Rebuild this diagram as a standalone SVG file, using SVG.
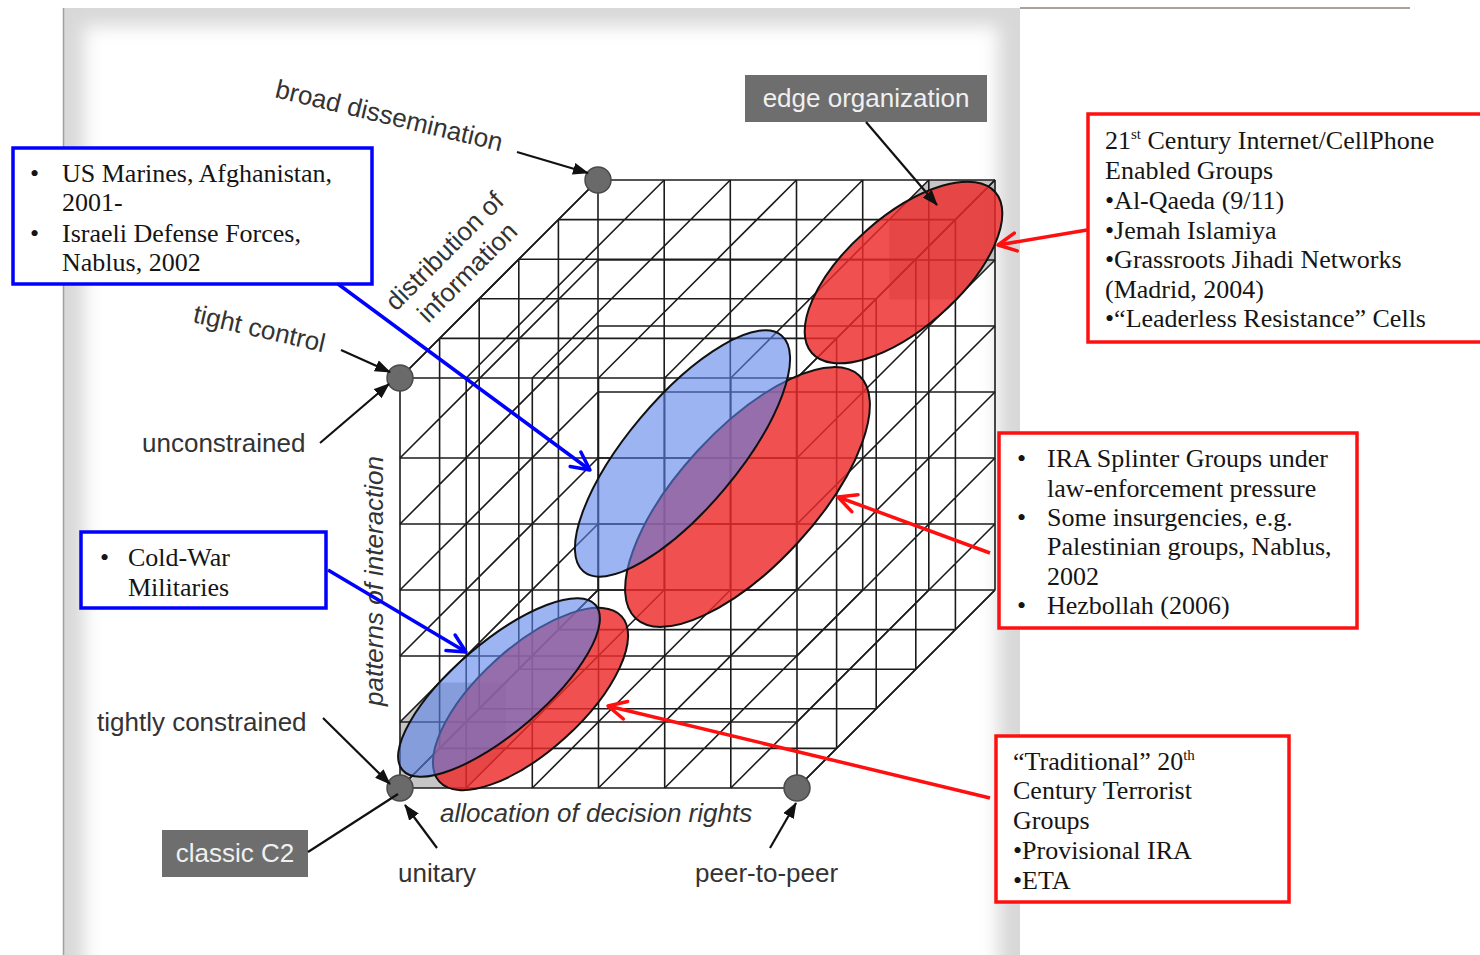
<svg xmlns="http://www.w3.org/2000/svg" xmlns:xlink="http://www.w3.org/1999/xlink" width="1480" height="955" viewBox="0 0 1480 955">
<style>
.g{stroke:#1c1c1c;stroke-width:1.6;fill:none}
.lbl{font-family:"Liberation Sans",Arial,sans-serif;font-size:26px;fill:#333}
.it{font-style:italic}
.wl{font-family:"Liberation Sans",Arial,sans-serif;font-size:26px;fill:#f0f0f0}
.gbox{fill:#6e6e6e}
.bb{fill:#fff;stroke:#0000ff;stroke-width:3.5}
.rb{fill:#fff;stroke:#ff1010;stroke-width:3.5}
.tx{font-family:"Liberation Serif","Times New Roman",serif;font-size:26px;fill:#151515}
.dot{fill:#6a6a6a;stroke:#4a4a4a;stroke-width:1.5}
.ka{stroke:#111;stroke-width:2.2;fill:none}
.ba{stroke:#0000ff;stroke-width:3.5;fill:none}
.ra{stroke:#ff1010;stroke-width:3.5;fill:none}
.re{fill:#ee2a2a;fill-opacity:0.82;stroke:#111;stroke-width:2}
.be{fill:#5a82ea;fill-opacity:0.6;stroke:#111;stroke-width:2}
</style>
<defs>
<marker id="mk" markerUnits="userSpaceOnUse" markerWidth="16" markerHeight="12" viewBox="0 0 16 12" refX="15" refY="6" orient="auto"><path d="M0,0 L16,6 L0,12 z" fill="#111"/></marker>
<marker id="mb" markerUnits="userSpaceOnUse" markerWidth="26" markerHeight="26" viewBox="0 0 26 26" refX="22" refY="13" orient="auto"><path d="M4,4 L22,13 L4,22" fill="none" stroke="#0000ff" stroke-width="3.5" stroke-linecap="round" stroke-linejoin="round"/></marker>
<marker id="mr" markerUnits="userSpaceOnUse" markerWidth="26" markerHeight="26" viewBox="0 0 26 26" refX="22" refY="13" orient="auto"><path d="M4,4 L22,13 L4,22" fill="none" stroke="#ff1010" stroke-width="3.5" stroke-linecap="round" stroke-linejoin="round"/></marker>
<filter id="soft" x="-5%" y="-5%" width="110%" height="110%"><feGaussianBlur stdDeviation="9"/></filter>
<clipPath id="panelClip"><rect x="63" y="8" width="957" height="947"/></clipPath>
<path id="faceFB" class="g" d="M400,378V788 M466.2,378V788 M532.3,378V788 M598.5,378V788 M664.7,378V788 M730.8,378V788 M797,378V788 M400,378H797 M400,458H797 M400,524H797 M400,590H797 M400,656H797 M400,722H797 M400,788H797"/>
<path id="faceTB" class="g" d="M439.6,338.4h397 M479.2,298.8h397 M518.8,259.2h397 M558.4,219.6h397 M400,378l198,-198 M466.2,378l198,-198 M532.3,378l198,-198 M598.5,378l198,-198 M664.7,378l198,-198 M730.8,378l198,-198 M797,378l198,-198"/>
<path id="faceLR" class="g" d="M439.6,338.4V748.4 M479.2,298.8V708.8 M518.8,259.2V669.2 M558.4,219.6V629.6 M400,378l198,-198 M400,458l198,-198 M400,524l198,-198 M400,590l198,-198 M400,656l198,-198 M400,722l198,-198 M400,788l198,-198"/>
</defs>

<g id="background">
<rect x="63" y="8" width="957" height="947" fill="#d8d8d8"/>
<g clip-path="url(#panelClip)"><rect x="84" y="26" width="914" height="960" fill="#fff" filter="url(#soft)"/></g>
<line x1="63.5" y1="8" x2="63.5" y2="955" stroke="#a0a0a0" stroke-width="1.5"/>
<line x1="1020" y1="8" x2="1410" y2="8" stroke="#5a4535" stroke-width="1"/>
</g>

<g id="cube">
<polygon points="400,788 400,722 439.6,682.4 505.8,682.4 505.8,748.4 466.2,788" fill="#808080" fill-opacity="0.45"/>
<polygon points="889.2,299.6 889.2,219.6 928.8,180 995,180 995,260 955.4,299.6" fill="#808080" fill-opacity="0.45"/>
<use xlink:href="#faceFB"/>
<use xlink:href="#faceFB" transform="translate(198,-198)"/>
<use xlink:href="#faceTB"/>
<use xlink:href="#faceTB" transform="translate(0,410)"/>
<use xlink:href="#faceLR"/>
<use xlink:href="#faceLR" transform="translate(397,0)"/>
</g>

<g id="regions">
<ellipse id="red-edge" class="re" cx="903.5" cy="272.5" rx="122" ry="56" transform="rotate(-41.3 903.5 272.5)"/>
<ellipse id="red-mid" class="re" cx="747.5" cy="497" rx="165" ry="68" transform="rotate(-47.4 747.5 497)"/>
<ellipse id="red-low" class="re" cx="530.5" cy="699" rx="123" ry="52" transform="rotate(-42.2 530.5 699)"/>
<ellipse id="blue-mid" class="be" cx="682.5" cy="453.5" rx="154" ry="55" transform="rotate(-50 682.5 453.5)"/>
<ellipse id="blue-low" class="be" cx="499" cy="687.5" rx="127" ry="45" transform="rotate(-40.5 499 687.5)"/>
</g>

<g id="axis-dots">
<circle class="dot" cx="598" cy="180" r="13"/>
<circle class="dot" cx="400" cy="378" r="13"/>
<circle class="dot" cx="400" cy="788" r="13"/>
<circle class="dot" cx="797" cy="788" r="13"/>
</g>

<g id="axis-labels">
<text class="lbl" transform="translate(274,97) rotate(13.5)">broad dissemination</text>
<text class="lbl" transform="translate(396,312) rotate(-45)">distribution of</text>
<text class="lbl" transform="translate(428,324) rotate(-45)">information</text>
<text class="lbl" transform="translate(192,322) rotate(13)">tight control</text>
<text class="lbl" x="142" y="452">unconstrained</text>
<text class="lbl it" transform="translate(383,706) rotate(-90)">patterns of interaction</text>
<text class="lbl" x="97" y="731">tightly constrained</text>
<text class="lbl it" x="440" y="822">allocation of decision rights</text>
<text class="lbl" x="398" y="882">unitary</text>
<text class="lbl" x="695" y="882">peer-to-peer</text>
</g>

<g id="edge-organization">
<rect class="gbox" x="745" y="75" width="242" height="47"/>
<text class="wl" x="866" y="107" text-anchor="middle">edge organization</text>
</g>
<g id="classic-c2">
<rect class="gbox" x="162" y="830" width="146" height="47"/>
<text class="wl" x="235" y="862" text-anchor="middle">classic C2</text>
</g>

<g id="box-us-marines">
<rect class="bb" x="13" y="148" width="359" height="136"/>
<text class="tx"><tspan x="30" y="182">•</tspan><tspan x="62" y="182">US Marines, Afghanistan,</tspan><tspan x="62" y="211">2001-</tspan><tspan x="30" y="242">•</tspan><tspan x="62" y="242">Israeli Defense Forces,</tspan><tspan x="62" y="271">Nablus, 2002</tspan></text>
</g>
<g id="box-cold-war">
<rect class="bb" x="81" y="532" width="245" height="76"/>
<text class="tx"><tspan x="100" y="566">•</tspan><tspan x="128" y="566">Cold-War</tspan><tspan x="128" y="596">Militaries</tspan></text>
</g>
<g id="box-21st">
<rect class="rb" x="1088" y="114" width="400" height="228"/>
<text class="tx"><tspan x="1105" y="149">21</tspan><tspan font-size="15" dy="-10">st</tspan><tspan dy="10"> Century Internet/CellPhone</tspan><tspan x="1105" y="179">Enabled Groups</tspan><tspan x="1105" y="209">•Al-Qaeda (9/11)</tspan><tspan x="1105" y="239">•Jemah Islamiya</tspan><tspan x="1105" y="268">•Grassroots Jihadi Networks</tspan><tspan x="1105" y="298">(Madrid, 2004)</tspan><tspan x="1105" y="327">•“Leaderless Resistance” Cells</tspan></text>
</g>
<g id="box-ira-splinter">
<rect class="rb" x="999" y="433" width="358" height="195"/>
<text class="tx"><tspan x="1017" y="467">•</tspan><tspan x="1047" y="467">IRA Splinter Groups under</tspan><tspan x="1047" y="497">law-enforcement pressure</tspan><tspan x="1017" y="526">•</tspan><tspan x="1047" y="526">Some insurgencies, e.g.</tspan><tspan x="1047" y="555">Palestinian groups, Nablus,</tspan><tspan x="1047" y="585">2002</tspan><tspan x="1017" y="614">•</tspan><tspan x="1047" y="614">Hezbollah (2006)</tspan></text>
</g>
<g id="box-traditional">
<rect class="rb" x="996" y="736" width="293" height="166"/>
<text class="tx"><tspan x="1013" y="770">“Traditional” 20</tspan><tspan font-size="15" dy="-10">th</tspan><tspan x="1013" y="799">Century Terrorist</tspan><tspan x="1013" y="829">Groups</tspan><tspan x="1013" y="859">•Provisional IRA</tspan><tspan x="1013" y="889">•ETA</tspan></text>
</g>

<g id="connectors">
<line class="ka" x1="517" y1="152" x2="588" y2="173" marker-end="url(#mk)"/>
<line class="ka" x1="866" y1="122" x2="937" y2="205" marker-end="url(#mk)"/>
<line class="ka" x1="341" y1="350" x2="390" y2="372" marker-end="url(#mk)"/>
<line class="ka" x1="320" y1="443" x2="389" y2="384" marker-end="url(#mk)"/>
<line class="ka" x1="323" y1="718" x2="390" y2="784" marker-end="url(#mk)"/>
<line class="ka" x1="308" y1="852" x2="398" y2="794"/>
<line class="ka" x1="437" y1="848" x2="405" y2="805" marker-end="url(#mk)"/>
<line class="ka" x1="770" y1="848" x2="796" y2="803" marker-end="url(#mk)"/>
<line class="ba" x1="338" y1="284" x2="590" y2="470" marker-end="url(#mb)"/>
<line class="ba" x1="328" y1="570" x2="466" y2="652" marker-end="url(#mb)"/>
<line class="ra" x1="1087" y1="230" x2="998" y2="245" marker-end="url(#mr)"/>
<line class="ra" x1="990" y1="553" x2="838" y2="497" marker-end="url(#mr)"/>
<line class="ra" x1="990" y1="798" x2="608" y2="706" marker-end="url(#mr)"/>
</g>
</svg>
